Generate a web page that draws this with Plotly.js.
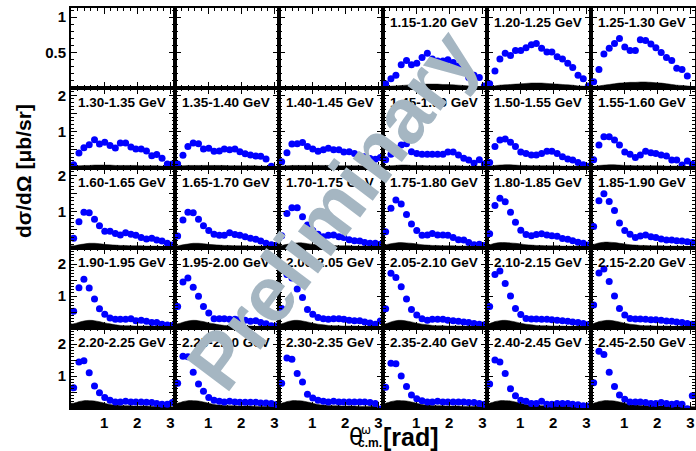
<!DOCTYPE html>
<html><head><meta charset="utf-8">
<script src="https://cdn.plot.ly/plotly-3.0.1.min.js"></script>
<style>body{margin:0;background:#fff}#chart{width:696px;height:451px}</style>
</head><body><div id="chart"></div>
<script>
// bin centres in theta (rad)
const theta = [0.08,0.24,0.39,0.55,0.71,0.86,1.02,1.18,1.34,1.49,1.65,1.81,1.96,2.12,2.28,2.44,2.59,2.75,2.91,3.06];

const labels = ['1.15-1.20 GeV','1.20-1.25 GeV','1.25-1.30 GeV',
 '1.30-1.35 GeV','1.35-1.40 GeV','1.40-1.45 GeV','1.45-1.50 GeV','1.50-1.55 GeV','1.55-1.60 GeV',
 '1.60-1.65 GeV','1.65-1.70 GeV','1.70-1.75 GeV','1.75-1.80 GeV','1.80-1.85 GeV','1.85-1.90 GeV',
 '1.90-1.95 GeV','1.95-2.00 GeV','2.00-2.05 GeV','2.05-2.10 GeV','2.10-2.15 GeV','2.15-2.20 GeV',
 '2.20-2.25 GeV','2.25-2.30 GeV','2.30-2.35 GeV','2.35-2.40 GeV','2.40-2.45 GeV','2.45-2.50 GeV'];

// y tick labels per row
const yTickVals = [[0.5, 1], [0.5, 1, 1.5, 2]];
const yTickText = [['0.5', '1'], ['', '1', '', '2']];
const xTickVals = [1, 2, 3];
const xTickText = ['1', '2', '3'];

// differential cross sections (microbarn/sr)
const xs1150 = [0.06,0.13,0.18,0.33,0.39,0.33,0.35,0.43,0.49,0.41,0.38,0.38,0.40,0.36,0.31,0.28,0.15,0.18,0.15,0.03];
const xs1200 = [0.06,0.24,0.41,0.49,0.46,0.53,0.53,0.57,0.61,0.63,0.56,0.51,0.51,0.44,0.41,0.35,0.29,0.18,0.13,0.03];
const xs1250 = [0.09,0.26,0.48,0.56,0.63,0.70,0.58,0.53,0.53,0.68,0.67,0.62,0.57,0.50,0.43,0.39,0.28,0.26,0.17,null];
const xs1300 = [0.09,0.41,0.56,0.64,0.78,0.66,0.71,0.62,0.55,0.69,0.69,0.58,0.52,0.52,0.47,0.34,0.37,0.27,0.11,0.11];
const xs1350 = [0.11,0.35,0.59,0.69,0.67,0.52,0.54,0.46,0.47,0.52,0.50,0.52,0.45,0.39,0.36,0.33,0.32,0.25,0.05,null];
const xs1400 = [0.17,0.42,0.66,0.67,0.70,0.59,0.52,0.46,0.50,0.54,0.50,0.50,0.44,0.45,0.40,0.26,0.31,0.26,0.24,0.29];
const xs1450 = [0.23,0.38,0.53,0.63,0.67,0.45,0.40,0.38,0.38,0.38,0.38,0.38,0.44,0.44,0.36,0.27,0.22,0.13,0.23,0.11];
const xs1500 = [0.15,0.59,0.77,0.80,0.71,0.59,0.44,0.40,0.36,0.36,0.40,0.46,0.46,0.40,0.31,0.25,0.22,0.15,0.09,0.05];
const xs1550 = [0.23,0.63,0.86,0.86,0.77,0.63,0.44,0.38,0.29,0.36,0.46,0.42,0.40,0.36,0.33,0.22,0.22,0.08,0.19,0.10];
const xs1600 = [0.27,0.72,0.98,0.97,0.79,0.61,0.46,0.46,0.40,0.36,0.42,0.38,0.35,0.29,0.25,0.27,0.22,0.19,0.13,0.08];
const xs1650 = [0.33,0.77,0.98,0.97,0.79,0.61,0.48,0.38,0.35,0.35,0.42,0.37,0.35,0.31,0.27,0.24,0.19,0.13,0.09,0.07];
const xs1700 = [0.34,0.95,1.11,1.11,0.86,0.63,0.48,0.38,0.31,0.35,0.36,0.31,0.29,0.23,0.20,0.19,0.15,0.13,0.13,0.10];
const xs1750 = [0.45,1.09,1.32,1.21,0.92,0.66,0.48,0.35,0.36,0.40,0.36,0.36,0.35,0.29,0.23,0.22,0.15,0.09,0.10,0.07];
const xs1800 = [0.39,1.17,1.37,1.27,0.98,0.71,0.49,0.37,0.34,0.37,0.39,0.36,0.34,0.32,0.26,0.24,0.20,0.16,0.13,0.08];
const xs1850 = [0.59,1.30,1.49,1.28,1.03,0.69,0.48,0.38,0.29,0.33,0.36,0.31,0.29,0.25,0.22,0.22,0.20,0.19,0.17,0.15];
const xs1900 = [0.52,1.26,1.52,1.25,0.91,0.60,0.43,0.31,0.27,0.27,0.27,0.29,0.23,0.24,0.21,0.17,0.17,0.12,0.09,0.08];
const xs1950 = [0.67,1.44,1.56,1.27,0.99,0.67,0.47,0.29,0.29,0.29,0.27,0.27,0.27,0.24,0.21,0.23,0.17,0.13,0.07,0.06];
const xs2000 = [0.61,1.67,1.56,1.22,0.95,0.58,0.43,0.33,0.29,0.27,0.29,0.29,0.27,0.24,0.23,0.23,0.19,0.16,0.12,0.22];
const xs2050 = [0.60,1.71,1.58,1.29,0.91,0.58,0.41,0.29,0.24,0.27,0.27,0.27,0.24,0.23,0.21,0.19,0.17,0.14,0.12,0.10];
const xs2100 = [0.67,1.67,1.78,1.39,1.00,0.61,0.42,0.30,0.28,0.28,0.27,0.27,0.26,0.24,0.23,0.21,0.19,0.17,0.14,0.11];
const xs2150 = [0.72,1.72,1.84,1.45,1.00,0.61,0.41,0.30,0.28,0.28,0.27,0.26,0.26,0.24,0.22,0.21,0.19,0.17,0.14,0.12];
const xs2200 = [0.63,1.44,1.48,1.10,0.69,0.48,0.33,0.24,0.19,0.19,0.21,0.19,0.19,0.19,0.18,0.17,0.14,0.12,0.12,0.17];
const xs2250 = [0.77,1.62,1.60,1.12,0.75,0.52,0.33,0.24,0.21,0.19,0.21,0.19,0.18,0.18,0.18,0.18,0.16,0.16,0.14,0.11];
const xs2300 = [0.77,1.56,1.52,1.08,0.81,0.43,0.31,0.24,0.21,0.19,0.21,0.19,0.19,0.19,0.19,0.19,0.19,0.17,0.14,-0.03];
const xs2350 = [0.65,1.40,1.38,1.00,0.67,0.41,0.29,0.23,0.19,0.19,0.21,0.19,0.19,0.19,0.19,0.19,0.17,0.17,0.14,0.12];
const xs2400 = [0.75,1.50,1.44,1.08,0.60,0.38,0.24,0.21,0.14,0.14,0.21,0.12,0.12,0.14,0.14,0.14,0.12,0.10,0.07,0.06];
const xs2450 = [0.79,1.77,1.67,1.12,0.67,0.41,0.27,0.19,0.19,0.19,0.17,0.14,0.14,0.17,0.14,0.12,0.14,0.12,-0.02,0.38];

// systematic error bands (upper edge)
const sys1150 = [0.02,0.025,0.03,0.035,0.04,0.045,0.05,0.05,0.055,0.055,0.055,0.05,0.05,0.045,0.04,0.035,0.03,0.025,0.02,0.015];
const sys1200 = [0.02,0.03,0.04,0.045,0.05,0.055,0.06,0.065,0.07,0.07,0.07,0.065,0.06,0.055,0.05,0.045,0.04,0.03,0.025,0.02];
const sys1250 = [0.02,0.03,0.04,0.05,0.06,0.07,0.075,0.08,0.08,0.085,0.085,0.08,0.075,0.07,0.06,0.05,0.04,0.035,0.03,0.02];
const sys1300 = [0.05,0.06,0.07,0.07,0.08,0.08,0.08,0.08,0.07,0.07,0.07,0.07,0.07,0.06,0.06,0.06,0.06,0.05,0.05,0.05];
const sys1350 = [0.05,0.06,0.07,0.07,0.07,0.07,0.07,0.07,0.07,0.07,0.06,0.06,0.06,0.06,0.06,0.06,0.05,0.05,0.05,0.05];
const sys1400 = [0.05,0.06,0.07,0.07,0.07,0.07,0.07,0.07,0.07,0.07,0.06,0.06,0.06,0.06,0.06,0.06,0.05,0.05,0.05,0.05];
const sys1450 = [0.05,0.06,0.07,0.08,0.08,0.07,0.07,0.07,0.06,0.06,0.06,0.06,0.06,0.06,0.06,0.05,0.05,0.05,0.05,0.04];
const sys1500 = [0.05,0.07,0.08,0.09,0.09,0.08,0.07,0.07,0.06,0.06,0.06,0.06,0.06,0.06,0.05,0.05,0.05,0.05,0.04,0.04];
const sys1550 = [0.05,0.07,0.08,0.09,0.09,0.08,0.07,0.07,0.06,0.06,0.06,0.06,0.06,0.06,0.05,0.05,0.05,0.05,0.04,0.04];
const sys1600 = [0.06,0.09,0.11,0.13,0.13,0.12,0.10,0.09,0.08,0.07,0.07,0.06,0.06,0.06,0.05,0.05,0.05,0.04,0.04,0.04];
const sys1650 = [0.06,0.09,0.11,0.13,0.13,0.12,0.10,0.09,0.08,0.07,0.07,0.06,0.06,0.06,0.05,0.05,0.05,0.04,0.04,0.04];
const sys1700 = [0.07,0.10,0.12,0.14,0.14,0.12,0.10,0.09,0.08,0.07,0.07,0.06,0.06,0.06,0.05,0.05,0.05,0.04,0.04,0.04];
const sys1750 = [0.09,0.12,0.14,0.15,0.14,0.13,0.11,0.09,0.08,0.07,0.07,0.06,0.06,0.06,0.05,0.05,0.05,0.05,0.04,0.04];
const sys1800 = [0.09,0.13,0.15,0.15,0.14,0.13,0.11,0.09,0.08,0.07,0.07,0.06,0.06,0.06,0.05,0.05,0.05,0.05,0.04,0.04];
const sys1850 = [0.10,0.14,0.16,0.16,0.15,0.13,0.11,0.09,0.08,0.07,0.07,0.06,0.06,0.06,0.05,0.05,0.05,0.05,0.04,0.04];
const sys1900 = [0.13,0.18,0.22,0.24,0.23,0.20,0.16,0.13,0.10,0.08,0.07,0.07,0.06,0.06,0.06,0.05,0.05,0.05,0.04,0.04];
const sys1950 = [0.13,0.18,0.22,0.24,0.23,0.20,0.16,0.13,0.10,0.08,0.07,0.07,0.06,0.06,0.06,0.05,0.05,0.05,0.04,0.04];
const sys2000 = [0.13,0.19,0.23,0.24,0.22,0.19,0.15,0.12,0.10,0.08,0.07,0.07,0.06,0.06,0.06,0.05,0.05,0.05,0.04,0.04];
const sys2050 = [0.13,0.19,0.23,0.24,0.22,0.19,0.15,0.12,0.10,0.08,0.07,0.07,0.06,0.06,0.06,0.05,0.05,0.05,0.04,0.04];
const sys2100 = [0.14,0.20,0.23,0.24,0.22,0.19,0.15,0.12,0.10,0.08,0.07,0.07,0.06,0.06,0.06,0.05,0.05,0.05,0.04,0.04];
const sys2150 = [0.14,0.20,0.23,0.24,0.22,0.19,0.15,0.12,0.10,0.08,0.07,0.07,0.06,0.06,0.06,0.05,0.05,0.05,0.04,0.04];
const sys2200 = [0.15,0.20,0.23,0.23,0.22,0.19,0.15,0.11,0.09,0.08,0.07,0.07,0.06,0.06,0.06,0.05,0.05,0.05,0.05,0.04];
const sys2250 = [0.15,0.20,0.23,0.23,0.22,0.19,0.15,0.11,0.09,0.08,0.07,0.07,0.06,0.06,0.06,0.05,0.05,0.05,0.05,0.04];
const sys2300 = [0.15,0.20,0.23,0.23,0.22,0.19,0.15,0.11,0.09,0.08,0.07,0.07,0.06,0.06,0.06,0.05,0.05,0.05,0.05,0.04];
const sys2350 = [0.15,0.20,0.23,0.23,0.22,0.19,0.15,0.11,0.09,0.08,0.07,0.07,0.06,0.06,0.06,0.05,0.05,0.05,0.05,0.04];
const sys2400 = [0.15,0.20,0.23,0.23,0.22,0.19,0.15,0.11,0.09,0.08,0.07,0.07,0.06,0.06,0.06,0.05,0.05,0.05,0.05,0.04];
const sys2450 = [0.15,0.20,0.23,0.23,0.22,0.19,0.15,0.11,0.09,0.08,0.07,0.07,0.06,0.06,0.06,0.05,0.05,0.05,0.05,0.04];

const xsList = [xs1150,xs1200,xs1250,xs1300,xs1350,xs1400,xs1450,xs1500,xs1550,xs1600,xs1650,xs1700,xs1750,xs1800,xs1850,
  xs1900,xs1950,xs2000,xs2050,xs2100,xs2150,xs2200,xs2250,xs2300,xs2350,xs2400,xs2450];
const sysList = [sys1150,sys1200,sys1250,sys1300,sys1350,sys1400,sys1450,sys1500,sys1550,sys1600,sys1650,sys1700,sys1750,sys1800,sys1850,
  sys1900,sys1950,sys2000,sys2050,sys2100,sys2150,sys2200,sys2250,sys2300,sys2350,sys2400,sys2450];

const NC = 6, NR = 5, XMAX = Math.PI;
const yRanges = [[0, 1.13], [0, 2.2], [0, 2.2], [0, 2.5], [0, 2.5]];
const FONT = 'Liberation Sans, Arial, sans-serif';
const traces = [];
const layout = {
  width: 696, height: 451,
  margin: {l: 71, r: 1, t: 8, b: 43},
  paper_bgcolor: '#fff', plot_bgcolor: '#fff',
  showlegend: false,
  font: {family: FONT, color: '#000'},
  annotations: []
};

for (let p = 0; p < NR * NC; p++) {
  const r = Math.floor(p / NC), c = p % NC;
  const k = p + 1, sfx = k === 1 ? '' : String(k);
  const ti = r === 0 ? 0 : 1;
  layout['xaxis' + sfx] = {
    domain: [c / NC, (c + 1) / NC], anchor: 'y' + sfx, range: [0, XMAX],
    showgrid: false, zeroline: false, showline: true, linecolor: '#000', linewidth: 2, mirror: 'allticks',
    ticks: 'inside', ticklen: 6, tickwidth: 1, tickcolor: '#000',
    tickmode: 'array', tickvals: xTickVals, ticktext: xTickText,
    minor: {tickmode: 'linear', tick0: 0, dtick: 0.2, ticks: 'inside', ticklen: 3, tickwidth: 1, tickcolor: '#000'},
    showticklabels: r === NR - 1,
    tickfont: {family: FONT, size: 15, weight: 'bold', color: '#000'},
    fixedrange: true
  };
  layout['yaxis' + sfx] = {
    domain: [1 - (r + 1) / NR, 1 - r / NR], anchor: 'x' + sfx, range: yRanges[r],
    showgrid: false, zeroline: false, showline: true, linecolor: '#000', linewidth: 2, mirror: 'allticks',
    ticks: 'inside', ticklen: 6, tickwidth: 1, tickcolor: '#000',
    tickmode: 'array', tickvals: yTickVals[ti], ticktext: yTickText[ti],
    minor: {tickmode: 'linear', tick0: 0, dtick: 0.1, ticks: 'inside', ticklen: 3, tickwidth: 1, tickcolor: '#000'},
    showticklabels: c === 0,
    tickfont: {family: FONT, size: 15, weight: 'bold', color: '#000'},
    fixedrange: true
  };
  const xa = 'x' + sfx, ya = 'y' + sfx;
  const d = p - 3;
  if (d < 0) {
    // empty frame: invisible placeholder so the axes are drawn
    traces.push({x: [1], y: [-5], xaxis: xa, yaxis: ya, mode: 'markers', marker: {opacity: 0}, hoverinfo: 'skip'});
    continue;
  }
  const bx = [0].concat(theta, [XMAX]);
  const sys = sysList[d];
  const by = [sys[0]].concat(sys, [sys[sys.length - 1]]);
  traces.push({x: bx, y: bx.map(() => -1), xaxis: xa, yaxis: ya, mode: 'lines', line: {width: 0, color: '#000'}, hoverinfo: 'skip'});
  traces.push({x: bx, y: by, xaxis: xa, yaxis: ya, mode: 'lines', line: {width: 0.5, color: '#000', shape: 'spline'}, fill: 'tonexty', fillcolor: '#000', hoverinfo: 'skip'});
  traces.push({x: theta, y: xsList[d], xaxis: xa, yaxis: ya, mode: 'markers', cliponaxis: true,
    marker: {color: '#0000ff', size: 7, line: {width: 0}}});
  layout.annotations.push({
    text: labels[d], xref: xa + ' domain', yref: ya + ' domain', x: 0.045, y: 0.82,
    xanchor: 'left', yanchor: 'middle', showarrow: false,
    font: {family: FONT, size: 13.5, weight: 'bold', color: '#000'}
  });
}

const px = v => (v - 71) / 624, py = v => (408 - v) / 400;
layout.annotations.push(
  {text: 'dσ/dΩ [μb/sr]', xref: 'paper', yref: 'paper', x: px(23), y: py(171), textangle: -90,
   showarrow: false, xanchor: 'center', yanchor: 'middle', font: {family: FONT, size: 21, weight: 'bold', color: '#000'}},
  {text: 'θ', xref: 'paper', yref: 'paper', x: px(355.5), y: py(437), xanchor: 'center', yanchor: 'middle',
   showarrow: false, font: {family: 'DejaVu Sans, sans-serif', size: 23, color: '#000'}},
  {text: 'ω', xref: 'paper', yref: 'paper', x: px(366), y: py(430), xanchor: 'center', yanchor: 'middle',
   showarrow: false, font: {family: 'DejaVu Sans, sans-serif', size: 12, color: '#000'}},
  {text: 'c.m.', xref: 'paper', yref: 'paper', x: px(370), y: py(443), xanchor: 'center', yanchor: 'middle',
   showarrow: false, font: {family: FONT, size: 12, weight: 'bold', color: '#000'}},
  {text: '[rad]', xref: 'paper', yref: 'paper', x: px(411), y: py(437), xanchor: 'center', yanchor: 'middle',
   showarrow: false, font: {family: FONT, size: 25, weight: 'bold', color: '#000'}},
  {text: 'Preliminary', xref: 'paper', yref: 'paper', x: px(332), y: py(210), textangle: -53,
   xanchor: 'center', yanchor: 'middle', showarrow: false,
   font: {family: FONT, size: 78, weight: 'bold', color: '#a5b6c2'}}
);

Plotly.newPlot('chart', traces, layout, {displayModeBar: false, staticPlot: true});
</script>
</body></html>
